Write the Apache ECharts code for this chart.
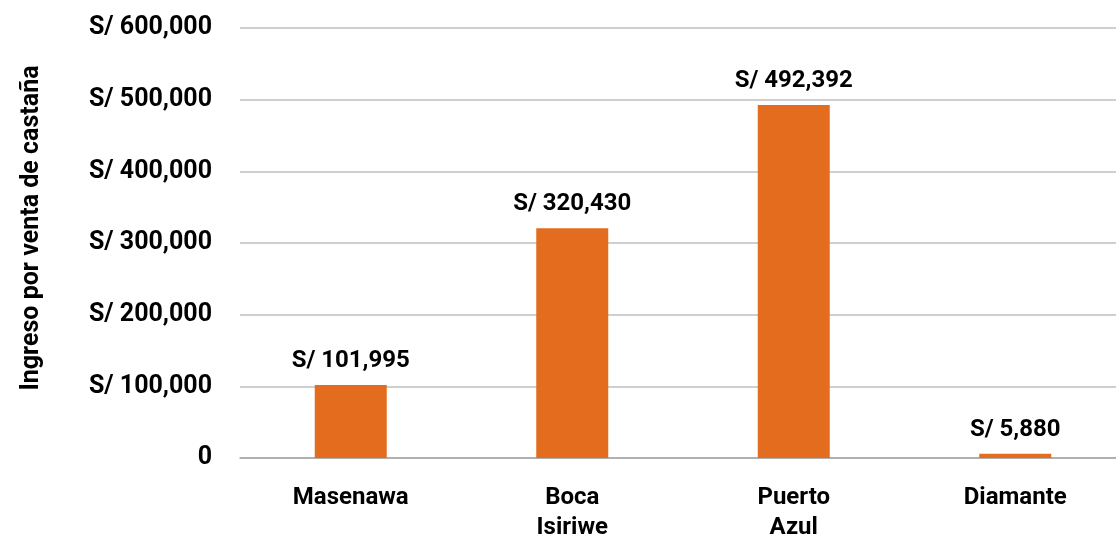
<!DOCTYPE html>
<html><head><meta charset="utf-8">
<script src="https://cdn.jsdelivr.net/npm/echarts@6/dist/echarts.min.js"></script>
<style>html,body{margin:0;padding:0;background:#fff}#c{width:1116px;height:538px}</style>
</head><body><div id="c"></div>
<script>
const categories = ['Masenawa', 'Boca\nIsiriwe', 'Puerto\nAzul', 'Diamante'];
const ingresos = [101995, 320430, 492392, 5880];
const yAxisTitle = 'Ingreso por venta de castaña';
const fmt = v => v === 0 ? '0' : 'S/ ' + v.toLocaleString('en-US');
const FONT = 'Roboto';
const chart = echarts.init(document.getElementById('c'));
chart.setOption({
  animation: false,
  grid: {left: 240, right: -10, top: 28, bottom: 80, containLabel: false, outerBoundsMode: 'none'},
  xAxis: {
    type: 'category', data: categories,
    axisLine: {lineStyle: {color: '#a6a6a6', width: 1.5}},
    axisTick: {show: false},
    axisLabel: {color: '#000', fontFamily: FONT, fontWeight: 'bold', fontSize: 24, lineHeight: 30, margin: 25}
  },
  yAxis: {
    type: 'value', min: 0, max: 600000, interval: 100000,
    name: yAxisTitle, nameLocation: 'middle', nameGap: 196,
    nameTextStyle: {color: '#000', fontFamily: FONT, fontWeight: 'bold', fontSize: 25, padding: [0, 0, 0, 30]},
    axisLine: {show: false}, axisTick: {show: false},
    splitLine: {lineStyle: {color: '#bfbfbf', width: 1.5}},
    axisLabel: {color: '#000', fontFamily: FONT, fontWeight: 'bold', fontSize: 25, margin: 28, padding: [6, 0, 0, 0], formatter: fmt}
  },
  series: [{
    type: 'bar', data: ingresos, barWidth: 72,
    itemStyle: {color: '#E36C1F'},
    label: {show: true, position: 'top', distance: 12, color: '#000', fontFamily: FONT, fontWeight: 'bold', fontSize: 24,
      formatter: p => fmt(p.value)}
  }]
});
</script></body></html>
